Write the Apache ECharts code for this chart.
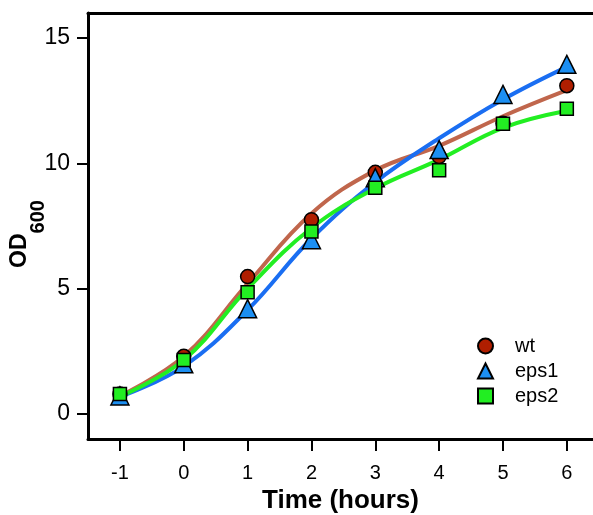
<!DOCTYPE html>
<html>
<head>
<meta charset="utf-8">
<script src="https://cdn.jsdelivr.net/npm/echarts@6/dist/echarts.min.js"></script>
<style>
    html, body { margin: 0; padding: 0; background: #fff; }
    #chart { width: 593px; height: 515px; }
</style>
</head>
<body>
<div id="chart"></div>
<script>
    // measured points
    let hours = [-1, 0, 1, 2, 3, 4, 5, 6];
    let wt = [0.8, 2.3, 5.48, 7.75, 9.64, 10.27, 11.6, 13.1];
    let eps1 = [0.72, 2.0, 4.2, 6.95, 9.43, 10.55, 12.75, 13.95];
    let eps2 = [0.8, 2.15, 4.86, 7.28, 9.03, 9.72, 11.58, 12.18];
    // fitted curves, read at each hour
    let wtFit = [0.72, 2.3, 5.2, 8.0, 9.72, 10.7, 11.88, 12.92];
    let eps1Fit = [0.68, 1.9, 4.15, 7.0, 9.25, 11.0, 12.55, 13.85];
    let eps2Fit = [0.7, 2.15, 5.0, 7.42, 9.0, 10.15, 11.42, 12.1];
    let xTicks = [-1, 0, 1, 2, 3, 4, 5, 6];
    let yTicks = [0, 5, 10, 15];

    let font = 'Liberation Sans, Arial, Helvetica, sans-serif';
    let pairs = (ys) => hours.map((h, i) => [h, ys[i]]);

    let groups = [
        {name: 'wt', pts: wt, fit: wtFit, symbol: 'circle', size: 14, fill: '#b01e00', line: '#c0664c'},
        {name: 'eps1', pts: eps1, fit: eps1Fit, symbol: 'triangle', size: 18, fill: '#1c8ff2', line: '#1a6ef2'},
        {name: 'eps2', pts: eps2, fit: eps2Fit, symbol: 'rect', size: 13, fill: '#22ee22', line: '#22ee22'}
    ];

    let seriesData = [];
    groups.forEach((g, i) => {
        seriesData.push({
            name: g.name + ' fit',
            type: 'line',
            smooth: 0.4,
            showSymbol: false,
            silent: true,
            z: 2 + i,
            lineStyle: {color: g.line, width: 4},
            data: pairs(g.fit)
        });
    });
    groups.forEach((g, i) => {
        seriesData.push({
            name: g.name,
            type: 'scatter',
            symbol: g.symbol,
            symbolSize: g.size,
            z: 10 + i,
            itemStyle: {color: g.fill, borderColor: '#000', borderWidth: 1.5, opacity: 1},
            data: pairs(g.pts)
        });
    });

    let chart = echarts.init(document.getElementById('chart'));
    let option = {
        animation: false,
        textStyle: {fontFamily: font},
        grid: {left: 88, right: 0, top: 13, bottom: 76, containLabel: false, outerBoundsMode: 'none'},
        legend: {
            orient: 'vertical',
            left: 472,
            top: 331,
            itemWidth: 15,
            itemHeight: 15,
            itemGap: 5,
            data: groups.map(g => ({name: g.name, icon: g.symbol})),
            textStyle: {fontSize: 20, color: '#000', fontFamily: font, padding: [0, 0, 0, 17]}
        },
        xAxis: [{
            type: 'value',
            min: -1.5,
            max: 6.41,
            name: 'Time (hours)',
            nameLocation: 'middle',
            nameGap: 48,
            nameTextStyle: {fontSize: 26, fontWeight: 'bold', color: '#000', fontFamily: font},
            axisLine: {show: true, onZero: false, lineStyle: {color: '#000', width: 3}},
            axisTick: {show: true, length: 12, customValues: xTicks, lineStyle: {color: '#000', width: 2}},
            axisLabel: {customValues: xTicks, fontSize: 20, color: '#000', margin: 24, fontFamily: font},
            splitLine: {show: false}
        }, {
            type: 'value',
            position: 'top',
            min: -1.5,
            max: 6.41,
            axisLine: {show: true, onZero: false, lineStyle: {color: '#000', width: 3}},
            axisTick: {show: false},
            axisLabel: {show: false},
            splitLine: {show: false}
        }],
        yAxis: {
            type: 'value',
            min: -1,
            max: 16,
            name: '{a|OD}{b|600}{s|}',
            nameLocation: 'middle',
            nameRotate: 90,
            nameGap: 40,
            nameMoveOverlap: false,
            nameTextStyle: {
                color: '#000',
                rich: {
                    a: {fontSize: 23, fontWeight: 'bold', color: '#000', fontFamily: font, verticalAlign: 'top', lineHeight: 22},
                    b: {fontSize: 20, fontWeight: 'bold', color: '#000', fontFamily: font, verticalAlign: 'bottom', lineHeight: 19},
                    s: {width: 16, lineHeight: 40, verticalAlign: 'middle'}
                }
            },
            axisLine: {show: true, onZero: false, lineStyle: {color: '#000', width: 3}},
            axisTick: {show: true, length: 11, customValues: yTicks, lineStyle: {color: '#000', width: 2}},
            axisLabel: {customValues: yTicks, fontSize: 23, color: '#000', margin: 18, fontFamily: font},
            splitLine: {show: false}
        },
        series: seriesData
    };
    chart.setOption(option);
</script>
</body>
</html>
